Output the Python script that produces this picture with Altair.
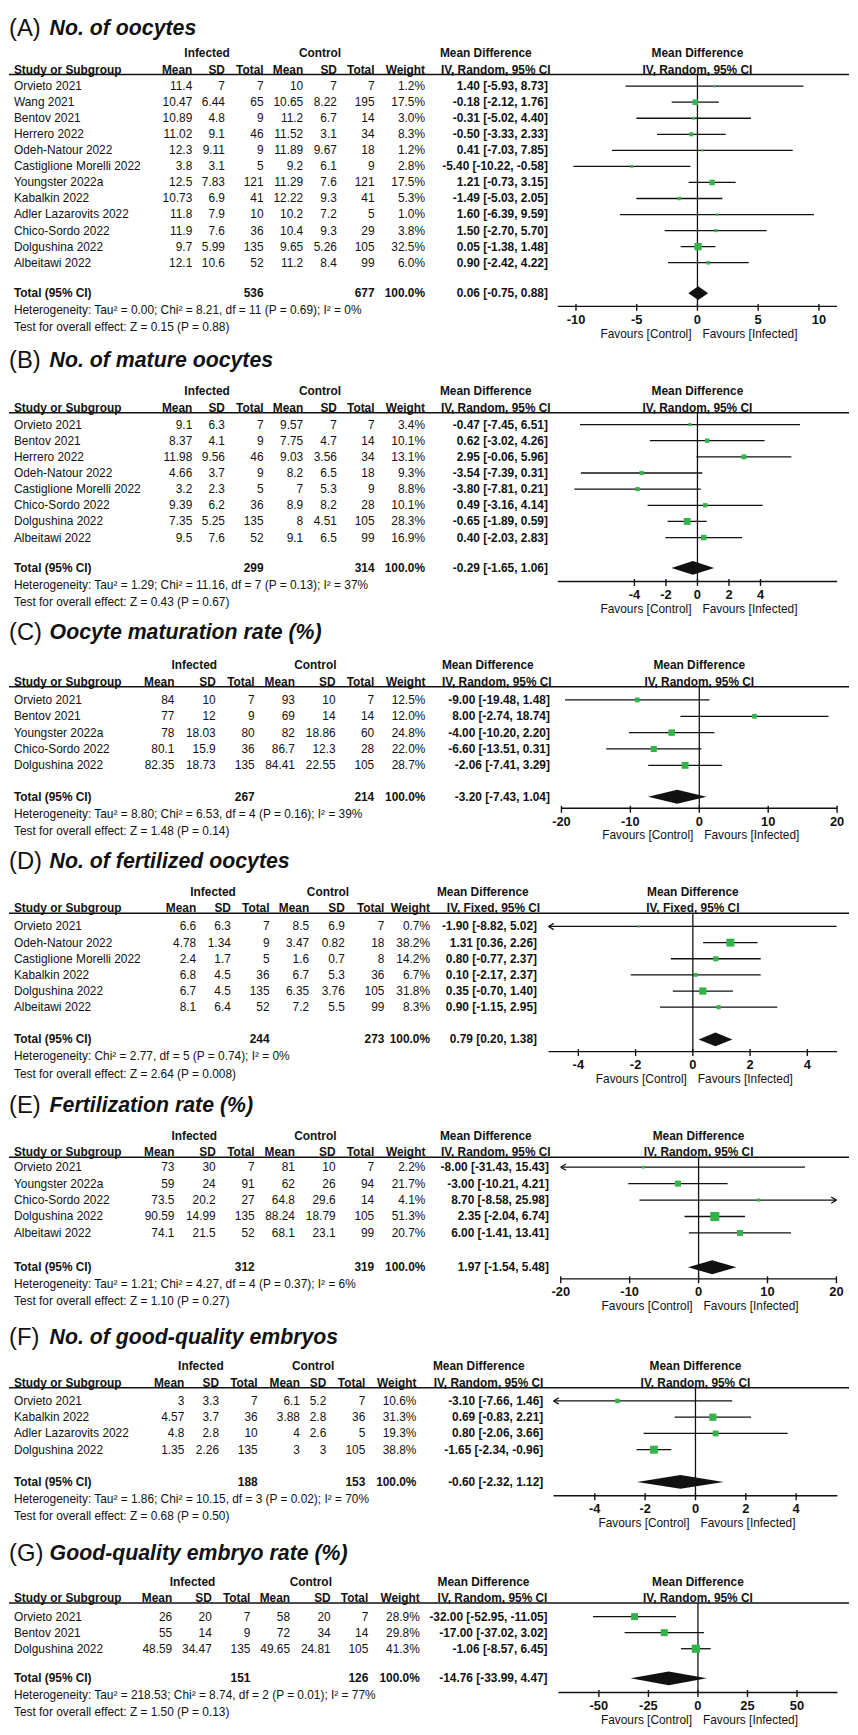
import altair as alt
import pandas as pd

FONT = "Liberation Sans"
INK = "#111111"
GREEN = "#33b44a"
W = 848      # chart width (page x = chart x + 8)
OX = 8       # page margin

# ---------------- DATA ----------------
# (A) No. of oocytes
A_study = ["Orvieto 2021", "Wang 2021", "Bentov 2021", "Herrero 2022", "Odeh-Natour 2022",
           "Castiglione Morelli 2022", "Youngster 2022a", "Kabalkin 2022", "Adler Lazarovits 2022",
           "Chico-Sordo 2022", "Dolgushina 2022", "Albeitawi 2022"]
A_inf_mean = [11.4, 10.47, 10.89, 11.02, 12.3, 3.8, 12.5, 10.73, 11.8, 11.9, 9.7, 12.1]
A_inf_sd = [7, 6.44, 4.8, 9.1, 9.11, 3.1, 7.83, 6.9, 7.9, 7.6, 5.99, 10.6]
A_inf_n = [7, 65, 9, 46, 9, 5, 121, 41, 10, 36, 135, 52]
A_ctl_mean = [10, 10.65, 11.2, 11.52, 11.89, 9.2, 11.29, 12.22, 10.2, 10.4, 9.65, 11.2]
A_ctl_sd = [7, 8.22, 6.7, 3.1, 9.67, 6.1, 7.6, 9.3, 7.2, 9.3, 5.26, 8.4]
A_ctl_n = [7, 195, 14, 34, 18, 9, 121, 41, 5, 29, 105, 99]
A_weight = [1.2, 17.5, 3.0, 8.3, 1.2, 2.8, 17.5, 5.3, 1.0, 3.8, 32.5, 6.0]
A_md = [1.40, -0.18, -0.31, -0.50, 0.41, -5.40, 1.21, -1.49, 1.60, 1.50, 0.05, 0.90]
A_lo = [-5.93, -2.12, -5.02, -3.33, -7.03, -10.22, -0.73, -5.03, -6.39, -2.70, -1.38, -2.42]
A_hi = [8.73, 1.76, 4.40, 2.33, 7.85, -0.58, 3.15, 2.05, 9.59, 5.70, 1.48, 4.22]
A_total = [536, 677]
A_pooled = [0.06, -0.75, 0.88]
A_het = "Heterogeneity: Tau² = 0.00; Chi² = 8.21, df = 11 (P = 0.69); I² = 0%"
A_test = "Test for overall effect: Z = 0.15 (P = 0.88)"
A_ticks = [-10, -5, 0, 5, 10]
A_domain = [-11.5, 11.5]

# (B) No. of mature oocytes
B_study = ["Orvieto 2021", "Bentov 2021", "Herrero 2022", "Odeh-Natour 2022",
           "Castiglione Morelli 2022", "Chico-Sordo 2022", "Dolgushina 2022", "Albeitawi 2022"]
B_inf_mean = [9.1, 8.37, 11.98, 4.66, 3.2, 9.39, 7.35, 9.5]
B_inf_sd = [6.3, 4.1, 9.56, 3.7, 2.3, 6.2, 5.25, 7.6]
B_inf_n = [7, 9, 46, 9, 5, 36, 135, 52]
B_ctl_mean = [9.57, 7.75, 9.03, 8.2, 7, 8.9, 8, 9.1]
B_ctl_sd = [7, 4.7, 3.56, 6.5, 5.3, 8.2, 4.51, 6.5]
B_ctl_n = [7, 14, 34, 18, 9, 28, 105, 99]
B_weight = [3.4, 10.1, 13.1, 9.3, 8.8, 10.1, 28.3, 16.9]
B_md = [-0.47, 0.62, 2.95, -3.54, -3.80, 0.49, -0.65, 0.40]
B_lo = [-7.45, -3.02, -0.06, -7.39, -7.81, -3.16, -1.89, -2.03]
B_hi = [6.51, 4.26, 5.96, 0.31, 0.21, 4.14, 0.59, 2.83]
B_total = [299, 314]
B_pooled = [-0.29, -1.65, 1.06]
B_het = "Heterogeneity: Tau² = 1.29; Chi² = 11.16, df = 7 (P = 0.13); I² = 37%"
B_test = "Test for overall effect: Z = 0.43 (P = 0.67)"
B_ticks = [-4, -2, 0, 2, 4]
B_domain = [-8.86, 8.86]

# (C) Oocyte maturation rate (%)
C_study = ["Orvieto 2021", "Bentov 2021", "Youngster 2022a", "Chico-Sordo 2022", "Dolgushina 2022"]
C_inf_mean = [84, 77, 78, 80.1, 82.35]
C_inf_sd = [10, 12, 18.03, 15.9, 18.73]
C_inf_n = [7, 9, 80, 36, 135]
C_ctl_mean = [93, 69, 82, 86.7, 84.41]
C_ctl_sd = [10, 14, 18.86, 12.3, 22.55]
C_ctl_n = [7, 14, 60, 28, 105]
C_weight = [12.5, 12.0, 24.8, 22.0, 28.7]
C_md = [-9.00, 8.00, -4.00, -6.60, -2.06]
C_lo = [-19.48, -2.74, -10.20, -13.51, -7.41]
C_hi = [1.48, 18.74, 2.20, 0.31, 3.29]
C_total = [267, 214]
C_pooled = [-3.20, -7.43, 1.04]
C_het = "Heterogeneity: Tau² = 8.80; Chi² = 6.53, df = 4 (P = 0.16); I² = 39%"
C_test = "Test for overall effect: Z = 1.48 (P = 0.14)"
C_ticks = [-20, -10, 0, 10, 20]
C_domain = [-20, 20]

# (D) No. of fertilized oocytes
D_study = ["Orvieto 2021", "Odeh-Natour 2022", "Castiglione Morelli 2022", "Kabalkin 2022",
           "Dolgushina 2022", "Albeitawi 2022"]
D_inf_mean = [6.6, 4.78, 2.4, 6.8, 6.7, 8.1]
D_inf_sd = [6.3, 1.34, 1.7, 4.5, 4.5, 6.4]
D_inf_n = [7, 9, 5, 36, 135, 52]
D_ctl_mean = [8.5, 3.47, 1.6, 6.7, 6.35, 7.2]
D_ctl_sd = [6.9, 0.82, 0.7, 5.3, 3.76, 5.5]
D_ctl_n = [7, 18, 8, 36, 105, 99]
D_weight = [0.7, 38.2, 14.2, 6.7, 31.8, 8.3]
D_md = [-1.90, 1.31, 0.80, 0.10, 0.35, 0.90]
D_lo = [-8.82, 0.36, -0.77, -2.17, -0.70, -1.15]
D_hi = [5.02, 2.26, 2.37, 2.37, 1.40, 2.95]
D_total = [244, 273]
D_pooled = [0.79, 0.20, 1.38]
D_het = "Heterogeneity: Chi² = 2.77, df = 5 (P = 0.74); I² = 0%"
D_test = "Test for overall effect: Z = 2.64 (P = 0.008)"
D_ticks = [-4, -2, 0, 2, 4]
D_domain = [-5.04, 5.04]

# (E) Fertilization rate (%)
E_study = ["Orvieto 2021", "Youngster 2022a", "Chico-Sordo 2022", "Dolgushina 2022", "Albeitawi 2022"]
E_inf_mean = [73, 59, 73.5, 90.59, 74.1]
E_inf_sd = [30, 24, 20.2, 14.99, 21.5]
E_inf_n = [7, 91, 27, 135, 52]
E_ctl_mean = [81, 62, 64.8, 88.24, 68.1]
E_ctl_sd = [10, 26, 29.6, 18.79, 23.1]
E_ctl_n = [7, 94, 14, 105, 99]
E_weight = [2.2, 21.7, 4.1, 51.3, 20.7]
E_md = [-8.00, -3.00, 8.70, 2.35, 6.00]
E_lo = [-31.43, -10.21, -8.58, -2.04, -1.41]
E_hi = [15.43, 4.21, 25.98, 6.74, 13.41]
E_total = [312, 319]
E_pooled = [1.97, -1.54, 5.48]
E_het = "Heterogeneity: Tau² = 1.21; Chi² = 4.27, df = 4 (P = 0.37); I² = 6%"
E_test = "Test for overall effect: Z = 1.10 (P = 0.27)"
E_ticks = [-20, -10, 0, 10, 20]
E_domain = [-20, 20]

# (F) No. of good-quality embryos
F_study = ["Orvieto 2021", "Kabalkin 2022", "Adler Lazarovits 2022", "Dolgushina 2022"]
F_inf_mean = [3, 4.57, 4.8, 1.35]
F_inf_sd = [3.3, 3.7, 2.8, 2.26]
F_inf_n = [7, 36, 10, 135]
F_ctl_mean = [6.1, 3.88, 4, 3]
F_ctl_sd = [5.2, 2.8, 2.6, 3]
F_ctl_n = [7, 36, 5, 105]
F_weight = [10.6, 31.3, 19.3, 38.8]
F_md = [-3.10, 0.69, 0.80, -1.65]
F_lo = [-7.66, -0.83, -2.06, -2.34]
F_hi = [1.46, 2.21, 3.66, -0.96]
F_total = [188, 153]
F_pooled = [-0.60, -2.32, 1.12]
F_het = "Heterogeneity: Tau² = 1.86; Chi² = 10.15, df = 3 (P = 0.02); I² = 70%"
F_test = "Test for overall effect: Z = 0.68 (P = 0.50)"
F_ticks = [-4, -2, 0, 2, 4]
F_domain = [-5.64, 5.64]

# (G) Good-quality embryo rate (%)
G_study = ["Orvieto 2021", "Bentov 2021", "Dolgushina 2022"]
G_inf_mean = [26, 55, 48.59]
G_inf_sd = [20, 14, 34.47]
G_inf_n = [7, 9, 135]
G_ctl_mean = [58, 72, 49.65]
G_ctl_sd = [20, 34, 24.81]
G_ctl_n = [7, 14, 105]
G_weight = [28.9, 29.8, 41.3]
G_md = [-32.00, -17.00, -1.06]
G_lo = [-52.95, -37.02, -8.57]
G_hi = [-11.05, 3.02, 6.45]
G_total = [151, 126]
G_pooled = [-14.76, -33.99, 4.47]
G_het = "Heterogeneity: Tau² = 218.53; Chi² = 8.74, df = 2 (P = 0.01); I² = 77%"
G_test = "Test for overall effect: Z = 1.50 (P = 0.13)"
G_ticks = [-50, -25, 0, 25, 50]
G_domain = [-70.4, 70.4]


def pack(letter, title, method, pre):
    g = globals()
    return dict(letter=letter, title=title, method=method,
                study=g[pre + "study"], im=g[pre + "inf_mean"], isd=g[pre + "inf_sd"],
                inn=g[pre + "inf_n"], cm=g[pre + "ctl_mean"], csd=g[pre + "ctl_sd"],
                cn=g[pre + "ctl_n"], w=g[pre + "weight"], md=g[pre + "md"], lo=g[pre + "lo"],
                hi=g[pre + "hi"], total=g[pre + "total"], pooled=g[pre + "pooled"],
                het=g[pre + "het"], test=g[pre + "test"], ticks=g[pre + "ticks"],
                dom=g[pre + "domain"])


PANELS = [
    pack("(A)", "No. of oocytes", "IV, Random, 95% CI", "A_"),
    pack("(B)", "No. of mature oocytes", "IV, Random, 95% CI", "B_"),
    pack("(C)", "Oocyte maturation rate (%)", "IV, Random, 95% CI", "C_"),
    pack("(D)", "No. of fertilized oocytes", "IV, Fixed, 95% CI", "D_"),
    pack("(E)", "Fertilization rate (%)", "IV, Random, 95% CI", "E_"),
    pack("(F)", "No. of good-quality embryos", "IV, Random, 95% CI", "F_"),
    pack("(G)", "Good-quality embryo rate (%)", "IV, Random, 95% CI", "G_"),
]

# ---------------- LAYOUT (page pixels) ----------------
COLS_AB = dict(study=13, im=193, isd=226, inn=265, cm=305, csd=339, cn=377, wt=428,
               inf_c=208, ctl_c=322, md_l=443, iv_l=444, ci_r=552)
COLS_C = dict(study=13, im=175, isd=216.7, inn=256, cm=296.7, csd=337.7, cn=376.7, wt=428.3,
              inf_c=195, ctl_c=317.3, md_l=445, iv_l=445, ci_r=554)
COLS_D = dict(study=13, im=197, isd=232, inn=271, cm=311, csd=347, cn=387, wt=433,
              inf_c=214, ctl_c=330, md_l=440, iv_l=450, ci_r=541)
COLS_E = dict(study=13, im=175, isd=216.7, inn=256, cm=296.7, csd=337.7, cn=376.7, wt=428.3,
              inf_c=195, ctl_c=317.3, md_l=443, iv_l=444, ci_r=553)
COLS_F = dict(study=13, im=185, isd=220, inn=259, cm=301.7, csd=328.3, cn=367.7, wt=419.3,
              inf_c=201.7, ctl_c=315, md_l=436, iv_l=436.7, ci_r=547.3)
COLS_G = dict(study=13, im=172.7, isd=212.7, inn=251.7, cm=291.7, csd=332.7, cn=370.7, wt=422.7,
              inf_c=193.3, ctl_c=312.7, md_l=440.7, iv_l=440.7, ci_r=551.7)

LAYOUTS = [
    dict(top=8, h=330, row0=77.7, step=16.2, line=66, total=286.7, axis=300, title=20,
         x0=562, x1=844, cols=COLS_AB),
    dict(top=338, h=276, row0=419.3, step=16.3, line=407.3, total=564, axis=577.7, title=355,
         x0=562, x1=844, cols=COLS_AB),
    dict(top=614, h=231, row0=697.3, step=16.5, line=684, total=795, axis=806.7, title=630,
         x0=565.7, x1=844, cols=COLS_C),
    dict(top=845, h=245, row0=926, step=16.3, line=912.7, total=1040, axis=1052.3, title=861,
         x0=552.7, x1=844, cols=COLS_D),
    dict(top=1090, h=232, row0=1169, step=16.6, line=1159, total=1270, axis=1281.7, title=1107,
         x0=565, x1=843.3, cols=COLS_E),
    dict(top=1322, h=219, row0=1405, step=16.4, line=1391.7, total=1486.7, axis=1500.7, title=1341.7,
         x0=557.7, x1=844.3, cols=COLS_F),
    dict(top=1541, h=192, row0=1622.7, step=16.2, line=1609, total=1685, axis=1699.3, title=1560,
         x0=562.7, x1=844.3, cols=COLS_G),
]


def fmt(v):
    return f"{v:g}"


def build_panel(P, L):
    T, H = L["top"], L["h"]
    row0, step = L["row0"], L["step"]

    def R(yp):
        return (yp - row0) / step

    ys = alt.Scale(domain=[R(T), R(T + H)], range=[0, H], nice=False, zero=False)
    dmin, dmax = P["dom"]
    xs = alt.Scale(domain=[dmin, dmax], range=[L["x0"] - OX, L["x1"] - OX], nice=False, zero=False)
    Yr = alt.Y("r:Q", scale=ys, axis=None)
    c = L["cols"]
    n = len(P["study"])

    df = pd.DataFrame({
        "r": list(range(n)),
        "study": P["study"],
        "im": [fmt(v) for v in P["im"]],
        "isd": [fmt(v) for v in P["isd"]],
        "inn": [str(v) for v in P["inn"]],
        "cm": [fmt(v) for v in P["cm"]],
        "csd": [fmt(v) for v in P["csd"]],
        "cn": [str(v) for v in P["cn"]],
        "w": P["w"],
        "wt": [f"{v:.1f}%" for v in P["w"]],
        "md": P["md"], "lo": P["lo"], "hi": P["hi"],
        "ci": [f"{m:.2f} [{a:.2f}, {b:.2f}]" for m, a, b in zip(P["md"], P["lo"], P["hi"])],
    })
    df["lo_c"] = df["lo"].clip(lower=dmin)
    df["hi_c"] = df["hi"].clip(upper=dmax)

    def txt_style(align, bold=False, size=12, italic=False, dx=0):
        return dict(align=align, baseline="middle", font=FONT, fontSize=size, dx=dx,
                    fontWeight="bold" if bold else "normal",
                    fontStyle="italic" if italic else "normal", color=INK)

    def col_text(field, xp, align, bold=False):
        return alt.Chart(df).mark_text(**txt_style(align, bold)).encode(
            x=alt.value(xp - OX), y=Yr, text=f"{field}:N")

    def label(t, xp, yp, align, bold=False, size=12, italic=False):
        return alt.Chart(alt.Data(values=[{"t": t, "r": R(yp)}])).mark_text(
            **txt_style(align, bold, size, italic)).encode(
            x=alt.value(xp - OX), y=Yr, text="t:N")

    layers = []
    # title
    layers.append(label(P["letter"], 8, L["title"], "left", size=24))
    layers.append(label(P["title"], 49, L["title"], "left", bold=True, size=21.5, italic=True))
    # header rows
    h1 = L["line"] - 21.5
    h2 = L["line"] - 5
    layers += [
        label("Infected", c["inf_c"], h1, "center", True),
        label("Control", c["ctl_c"], h1, "center", True),
        label("Mean Difference", c["md_l"], h1, "left", True),
        label("Study or Subgroup", c["study"], h2, "left", True),
        label("Mean", c["im"], h2, "right", True),
        label("SD", c["isd"], h2, "right", True),
        label("Total", c["inn"], h2, "right", True),
        label("Mean", c["cm"], h2, "right", True),
        label("SD", c["csd"], h2, "right", True),
        label("Total", c["cn"], h2, "right", True),
        label("Weight", c["wt"], h2, "right", True),
        label(P["method"], c["iv_l"], h2, "left", True),
    ]
    # header line
    layers.append(alt.Chart(alt.Data(values=[{"r": R(L["line"])}])).mark_rule(
        color=INK, strokeWidth=1.5).encode(x=alt.value(0), x2=alt.value(W), y=Yr))
    # study rows
    layers += [
        col_text("study", c["study"], "left"),
        col_text("im", c["im"], "right"),
        col_text("isd", c["isd"], "right"),
        col_text("inn", c["inn"], "right"),
        col_text("cm", c["cm"], "right"),
        col_text("csd", c["csd"], "right"),
        col_text("cn", c["cn"], "right"),
        col_text("wt", c["wt"], "right"),
        col_text("ci", c["ci_r"], "right", bold=True),
    ]
    # totals
    pm, pl, ph = P["pooled"]
    tt = L["total"]
    layers += [
        label("Total (95% CI)", c["study"], tt, "left", True),
        label(str(P["total"][0]), c["inn"], tt, "right", True),
        label(str(P["total"][1]), c["cn"], tt, "right", True),
        label("100.0%", c["wt"], tt, "right", True),
        label(f"{pm:.2f} [{pl:.2f}, {ph:.2f}]", c["ci_r"], tt, "right", True),
        label(P["het"], c["study"], tt + 17.3, "left"),
        label(P["test"], c["study"], tt + 34.5, "left"),
    ]

    X = lambda f: alt.X(f, scale=xs, axis=None)
    ay = L["axis"]
    # forest x axis: domain line, ticks, labels (drawn on the forest scale)
    layers.append(alt.Chart(alt.Data(values=[{"a": dmin, "b": dmax, "r": R(ay)}]))
                  .mark_rule(color=INK, strokeWidth=1.4)
                  .encode(x=X("a:Q"), x2="b:Q", y=Yr))
    tk = pd.DataFrame({"v": P["ticks"], "r": R(ay - 2.5), "r2": R(ay + 4.5),
                       "rl": R(ay + 13.5), "lab": [str(t) for t in P["ticks"]]})
    layers.append(alt.Chart(tk).mark_rule(color=INK, strokeWidth=1.4)
                  .encode(x=X("v:Q"), y=Yr, y2="r2:Q"))
    layers.append(alt.Chart(tk).mark_text(**txt_style("center", True, 13))
                  .encode(x=X("v:Q"), y=alt.Y("rl:Q", scale=ys, axis=None), text="lab:N"))
    # zero line
    layers.append(alt.Chart(alt.Data(values=[{"z": 0, "r": R(L["line"]), "r2": R(ay)}]))
                  .mark_rule(color=INK, strokeWidth=1.3)
                  .encode(x=X("z:Q"), y=Yr, y2="r2:Q"))
    # CI lines
    layers.append(alt.Chart(df).mark_rule(color=INK, strokeWidth=1.3).encode(
        x=X("lo_c:Q"), x2="hi_c:Q", y=Yr))
    # arrows for truncated CIs
    left = df[df["lo"] < dmin].assign(ax=dmin)
    right = df[df["hi"] > dmax].assign(ax=dmax)
    if len(left):
        layers.append(alt.Chart(left).mark_point(
            shape="M0,0L1,-0.6M0,0L1,0.6", size=110, filled=False, color=INK, strokeWidth=1.3,
            opacity=1).encode(x=X("ax:Q"), y=Yr))
    if len(right):
        layers.append(alt.Chart(right).mark_point(
            shape="M0,0L-1,-0.6M0,0L-1,0.6", size=110, filled=False, color=INK, strokeWidth=1.3,
            opacity=1).encode(x=X("ax:Q"), y=Yr))
    # squares
    layers.append(alt.Chart(df).mark_square(color=GREEN, opacity=1).encode(
        x=X("md:Q"), y=Yr,
        size=alt.Size("w:Q", scale=alt.Scale(domain=[0, 100], range=[4, 160]), legend=None)))
    # pooled diamond
    rt = R(tt)
    d = 7.0 / step
    dia = pd.DataFrame({"x": [pl, pm, ph], "ya": [rt, rt - d, rt], "yb": [rt, rt + d, rt]})
    layers.append(alt.Chart(dia).mark_area(color=INK, opacity=1).encode(
        x=X("x:Q"), y=alt.Y("ya:Q", scale=ys, axis=None), y2="yb:Q"))
    # forest headers
    fh = alt.Data(values=[{"z": 0, "r": R(h1), "t": "Mean Difference"},
                          {"z": 0, "r": R(h2), "t": P["method"]}])
    layers.append(alt.Chart(fh).mark_text(**txt_style("center", True)).encode(
        x=X("z:Q"), y=Yr, text="t:N"))
    # favours labels
    fy = R(ay + 27.5)
    layers.append(alt.Chart(alt.Data(values=[{"z": 0, "r": fy, "t": "Favours [Control]"}]))
                  .mark_text(**txt_style("right", dx=-6)).encode(x=X("z:Q"), y=Yr, text="t:N"))
    layers.append(alt.Chart(alt.Data(values=[{"z": 0, "r": fy, "t": "Favours [Infected]"}]))
                  .mark_text(**txt_style("left", dx=5)).encode(x=X("z:Q"), y=Yr, text="t:N"))

    return alt.layer(*layers).properties(width=W, height=H)


panels = [build_panel(P, L) for P, L in zip(PANELS, LAYOUTS)]

chart = alt.vconcat(*panels, spacing=0, bounds="flush").properties(
    padding={"left": 0, "top": 0, "right": 0, "bottom": 0}
).configure_view(stroke=None).configure_concat(spacing=0)

chart.save("out.html", embed_options={"renderer": "svg", "actions": False})
